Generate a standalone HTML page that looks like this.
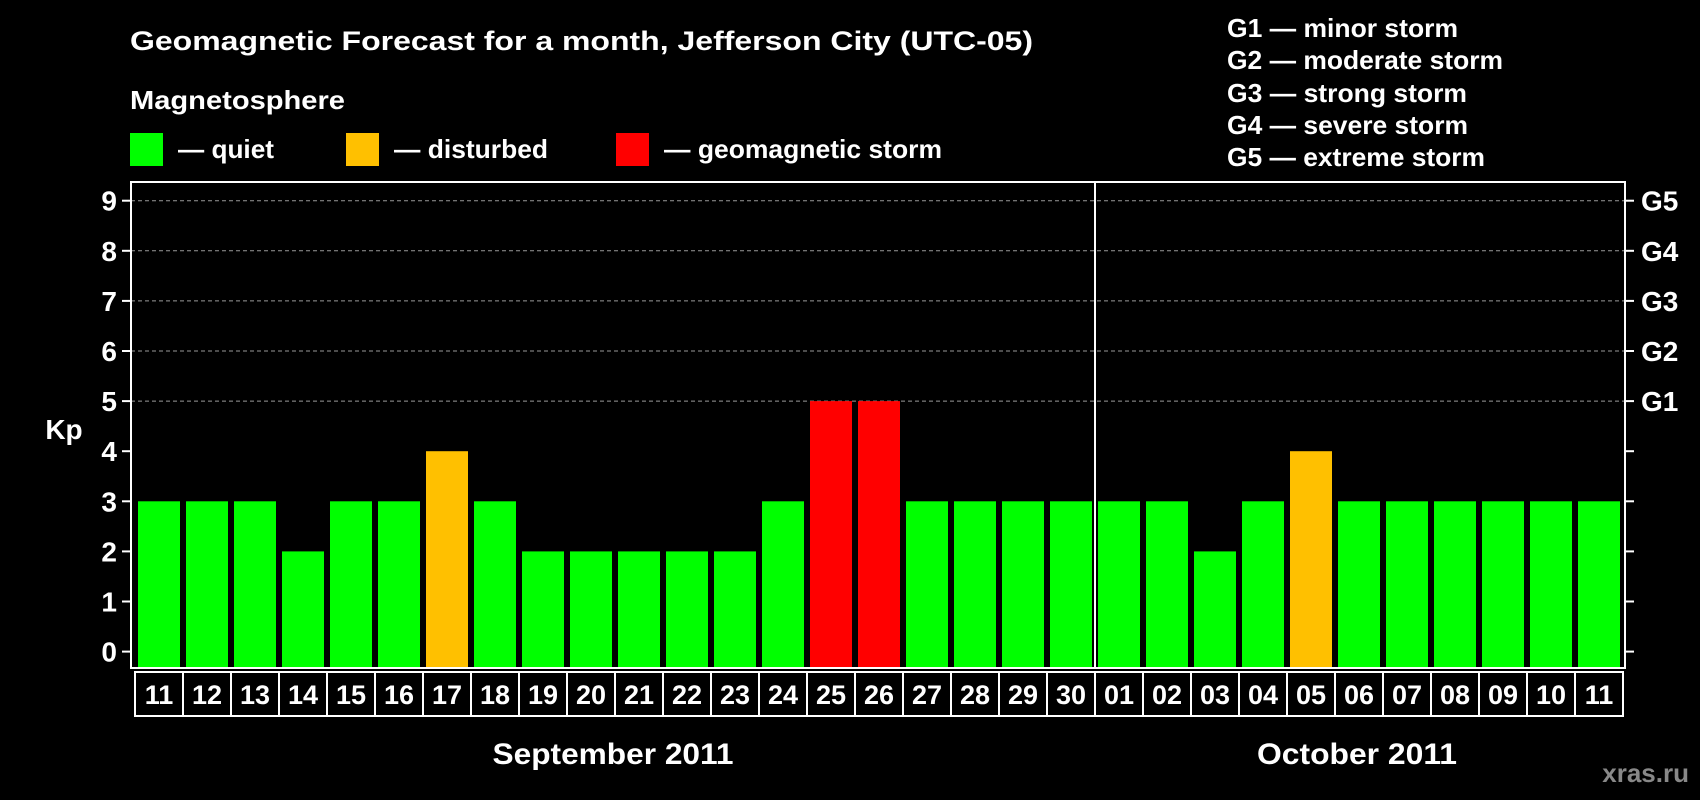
<!DOCTYPE html>
<html><head><meta charset="utf-8"><style>
html,body{margin:0;padding:0;background:#000;}
svg{display:block;font-family:"Liberation Sans",Arial,sans-serif;font-weight:bold;}
</style></head><body>
<svg id="chart" width="1700" height="800" viewBox="0 0 1700 800" xmlns="http://www.w3.org/2000/svg">
<rect width="1700" height="800" fill="#000"/>
<text x="130" y="50" fill="#fff" font-size="27" textLength="903" lengthAdjust="spacingAndGlyphs">Geomagnetic Forecast for a month, Jefferson City (UTC-05)</text>
<text x="130" y="109" fill="#fff" font-size="26" textLength="215" lengthAdjust="spacingAndGlyphs">Magnetosphere</text>
<g><rect x="130" y="133" width="33" height="33" fill="#00ff00"/><text x="178" y="158" fill="#fff" font-size="26" textLength="96" lengthAdjust="spacingAndGlyphs">— quiet</text></g>
<g><rect x="346" y="133" width="33" height="33" fill="#ffc000"/><text x="394" y="158" fill="#fff" font-size="26" textLength="154" lengthAdjust="spacingAndGlyphs">— disturbed</text></g>
<g><rect x="616" y="133" width="33" height="33" fill="#ff0000"/><text x="664" y="158" fill="#fff" font-size="26" textLength="278" lengthAdjust="spacingAndGlyphs">— geomagnetic storm</text></g>
<g fill="#fff" font-size="26" lengthAdjust="spacingAndGlyphs">
<text x="1227" y="37" textLength="231" lengthAdjust="spacingAndGlyphs">G1 — minor storm</text>
<text x="1227" y="69" textLength="276" lengthAdjust="spacingAndGlyphs">G2 — moderate storm</text>
<text x="1227" y="102" textLength="240" lengthAdjust="spacingAndGlyphs">G3 — strong storm</text>
<text x="1227" y="134" textLength="241" lengthAdjust="spacingAndGlyphs">G4 — severe storm</text>
<text x="1227" y="166" textLength="258" lengthAdjust="spacingAndGlyphs">G5 — extreme storm</text>
</g>
<g id="grid"></g>
<g id="bars"></g>
<rect x="131" y="182" width="1494" height="486" fill="none" stroke="#fff" stroke-width="2"/>
<line x1="1095" y1="182" x2="1095" y2="668" stroke="#fff" stroke-width="2"/>
<g id="axes"></g>
<g id="days"></g>
<text x="64" y="439" fill="#fff" font-size="28" text-anchor="middle">Kp</text>
<text x="613" y="764" fill="#fff" font-size="30" text-anchor="middle" textLength="241" lengthAdjust="spacingAndGlyphs">September 2011</text>
<text x="1357" y="764" fill="#fff" font-size="30" text-anchor="middle" textLength="200" lengthAdjust="spacingAndGlyphs">October 2011</text>
<text x="1689" y="782" fill="#888" font-size="26" text-anchor="end">xras.ru</text>
</svg>
<script>
const days = ["11","12","13","14","15","16","17","18","19","20","21","22","23","24","25","26","27","28","29","30","01","02","03","04","05","06","07","08","09","10","11"];
const kp = [3,3,3,2,3,3,4,3,2,2,2,2,2,3,5,5,3,3,3,3,3,3,2,3,4,3,3,3,3,3,3];
const yTicks = [0,1,2,3,4,5,6,7,8,9];
const gLabels = ["","","","","","G1","G2","G3","G4","G5"];
const NS="http://www.w3.org/2000/svg";
function y(v){return 651.6 - v*50.1;}
function x(i){return 138 + i*48;}
const BW=42, BOTTOM=668;
function mk(tag,attrs,parent){const e=document.createElementNS(NS,tag);for(const k in attrs)e.setAttribute(k,attrs[k]);parent.appendChild(e);return e;}
const grid=document.getElementById('grid'),bars=document.getElementById('bars'),axes=document.getElementById('axes'),dg=document.getElementById('days');
yTicks.forEach((t,i)=>{
  if(t>=5){const l=mk('line',{x1:131,x2:1625,y1:y(t),y2:y(t),stroke:'#999','stroke-width':1,'stroke-dasharray':'4,3'},grid);
  
  }
  mk('line',{x1:122,x2:131,y1:y(t),y2:y(t),stroke:'#fff','stroke-width':2},axes);
  mk('line',{x1:1625,x2:1634,y1:y(t),y2:y(t),stroke:'#fff','stroke-width':2},axes);
  const tl=mk('text',{x:117,y:y(t)+10,fill:'#fff','font-size':28,'text-anchor':'end'},axes);
  tl.textContent=t;
  
  
  if(gLabels[i]){const g=mk('text',{x:1641,y:y(t)+10,fill:'#fff','font-size':28},axes);
  g.textContent=gLabels[i];
  
  }
});
kp.forEach((v,i)=>{
  const c=v>=5?'#ff0000':(v>=4?'#ffc000':'#00ff00');
  const b=mk('rect',{x:x(i),y:y(v),width:BW,height:BOTTOM-y(v),fill:c},bars);
  
  
  const cell=mk('rect',{x:x(i)-3,y:672,width:48,height:44,fill:'none',stroke:'#fff','stroke-width':2},dg);
  
  
  const t=mk('text',{x:x(i)+BW/2,y:704,fill:'#fff','font-size':27,'text-anchor':'middle'},dg);
  t.textContent=days[i];
  
  
});
</script>
</body></html>
